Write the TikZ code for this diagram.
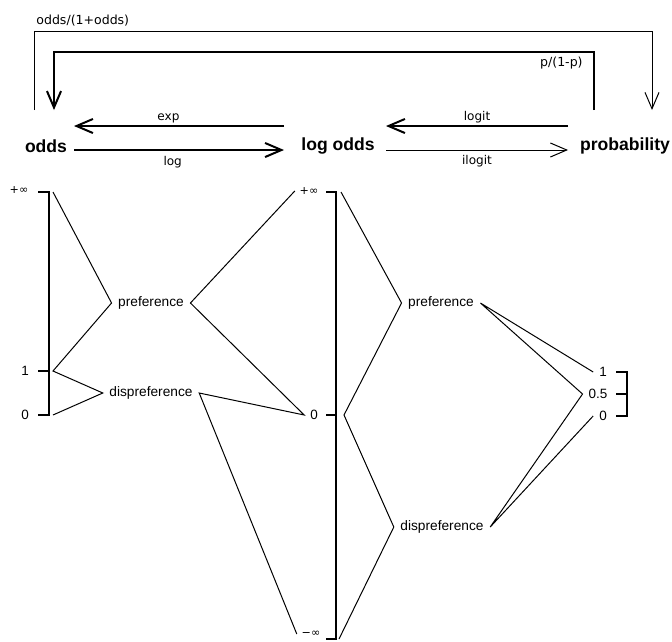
\documentclass[tikz,border=0pt]{standalone}
\usepackage{fontspec}
\setmainfont{Liberation Sans}
\newfontfamily\dejavu{DejaVu Sans}
\usetikzlibrary{arrows.meta, positioning}

\begin{document}
\begin{tikzpicture}[x=0.03cm, y=-0.03cm,
    head/.style={font=\fontsize{15}{18}\selectfont\bfseries, inner sep=0pt},
    fun/.style={font=\dejavu\fontsize{10.3}{12}\selectfont, inner sep=1.5pt},
    formula/.style={font=\dejavu\fontsize{10.7}{12}\selectfont, inner sep=1pt},
    lab/.style={font=\fontsize{11.7}{14}\selectfont, inner xsep=5.5pt, inner ysep=0pt},
    tick/.style={font=\fontsize{11.5}{14}\selectfont, inner xsep=5pt, inner ysep=0pt},
    inf/.style={font=\dejavu\fontsize{9.5}{11}\selectfont, inner xsep=4pt, inner ysep=0pt},
    barb/.style={-{Straight Barb[length=14pt, width=12pt]}},
    fat/.style={line width=1.7pt},
    slim/.style={line width=0.85pt},
    axis/.style={line width=1.4pt},
    link/.style={line width=0.85pt}]
    \useasboundingbox (0,0) rectangle (672,641);
    \clip (0,0) rectangle (672,641);

    % Scales
    \node[head] (odds) at (46,146) {odds};
    \node[head] (logodds) at (338,146) {log odds};
    \node[head] (prob) at (625,146) {probability};

    % Transformations between scales
    \coordinate (odds-r) at (74,126);
    \coordinate (odds-r2) at (74,150);
    \coordinate (lo-l) at (284,126);
    \coordinate (lo-l2) at (284,150);
    \coordinate (lo-r) at (386,126);
    \coordinate (lo-r2) at (386,150);
    \coordinate (prob-l) at (568,126);
    \coordinate (prob-l2) at (568,150);
    \draw[fat, barb] (lo-l) -- (odds-r) node[pos=0.55, above, fun] (expl) {exp};
    \draw[fat, barb] (odds-r2) -- (lo-l2) node[pos=0.47, below, yshift=-3pt, fun] (logl) {log};
    \draw[fat, barb] (prob-l) -- (lo-r) node[midway, above, fun] (logitl) {logit};
    \draw[slim, barb] (lo-r2) -- (prob-l2) node[midway, below, yshift=-3pt, fun] (ilogitl) {ilogit};

    % Direct conversions
    \coordinate (odds-out) at (34,110);
    \coordinate (odds-in) at (54,110);
    \coordinate (prob-out) at (594,110);
    \coordinate (prob-in) at (652,110);
    \draw[slim, barb] (odds-out) -- ++(0,-79) -| (prob-in);
    \draw[fat, barb] (prob-out) -- ++(0,-58) -| (odds-in);
    \node[formula, anchor=south west] (oddsfn) at (35,28) {odds/(1+odds)};
    \node[formula, anchor=north east] (probfn) at (584,56) {p/(1-p)};

    % Odds axis
    \draw[axis] (38,192) -- (49,192) -- (49,415) -- (38,415);
    \draw[axis] (38,371) -- (49,371);
    \node[inf] (oinf) at (19,190) {+∞};
    \node[tick] (oone) at (25,371) {1};
    \node[tick] (ozero) at (25,415) {0};
    \coordinate (o-top) at (53,192);
    \coordinate (o-one) at (53,371);
    \coordinate (o-bot) at (53,415);

    % Log odds axis
    \draw[axis] (326,192) -- (336,192) -- (336,639) -- (326,639);
    \draw[axis] (326,415) -- (336,415);
    \node[inf] (lpinf) at (309,191) {+∞};
    \node[tick] (lzero) at (314,415) {0};
    \node[inf] (lminf) at (311,634) {−∞};
    \coordinate (l-top) at (341,192);
    \coordinate (l-mid) at (344,415);
    \coordinate (l-bot) at (339,639);

    % Probability axis
    \draw[axis] (616,372) -- (627,372) -- (627,416) -- (616,416);
    \draw[axis] (616,394) -- (627,394);
    \node[tick] (pone) at (603,372) {1};
    \node[tick] (phalf) at (598,394) {0.5};
    \node[tick] (pzero) at (603,416) {0};

    % Preference and dispreference
    \node[lab] (pref1) at (151,303) {preference};
    \node[lab] (dis1) at (151,393) {dispreference};
    \node[lab] (pref2) at (441,303) {preference};
    \node[lab] (dis2) at (442,527) {dispreference};

    \draw[link] (o-top) -- (pref1.west) -- (o-one) -- (dis1.west) -- (o-bot);
    \draw[link] (lpinf.west) -- (pref1.east) -- (lzero.west) -- (dis1.east) -- (lminf.west);
    \draw[link] (l-top) -- (pref2.west) -- (l-mid) -- (dis2.west) -- (l-bot);
    \draw[link] (pone.west) -- (pref2.east) -- (phalf.west) -- (dis2.east) -- (pzero.west);
\end{tikzpicture}
\end{document}
